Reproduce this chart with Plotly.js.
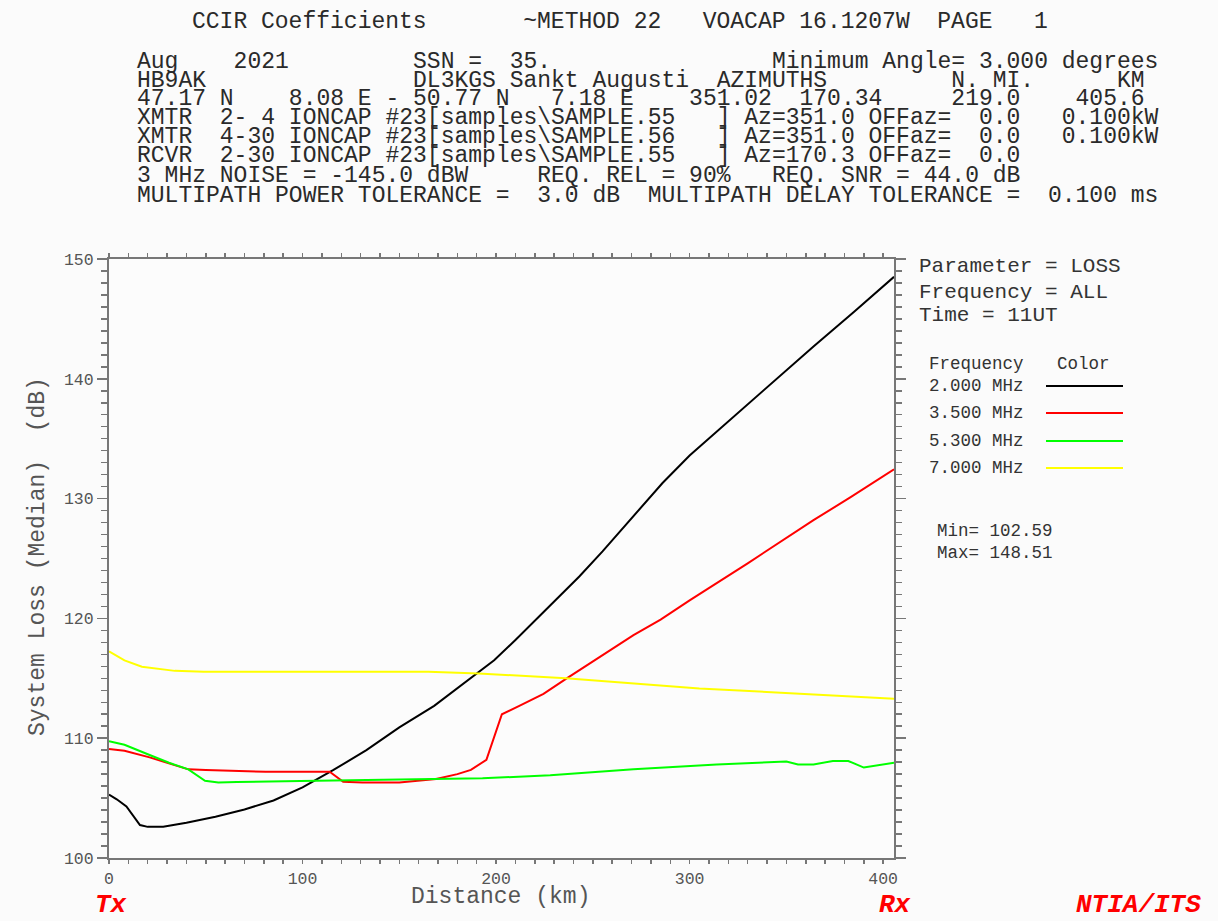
<!DOCTYPE html>
<html>
<head>
<meta charset="utf-8">
<script src="https://cdn.plot.ly/plotly-3.0.1.min.js"></script>
<style>
html,body{margin:0;padding:0;background:#fbfbfb;}
#chart{width:1218px;height:921px;}
</style>
</head>
<body>
<div id="chart"></div>
<script>
// ---- data ----
const freqLabels = ["2.000 MHz", "3.500 MHz", "5.300 MHz", "7.000 MHz"];
const seriesColors = ["#000000", "#ff0000", "#00ff00", "#ffff00"];

const dist2 = [0, 4, 9, 16, 20, 28, 40, 55, 70, 85, 100, 116, 133, 150, 168, 190, 199, 210, 225, 243, 255, 269, 286, 300, 330, 364, 385, 405.6];
const loss2 = [105.3, 104.9, 104.3, 102.75, 102.6, 102.6, 102.95, 103.45, 104.05, 104.8, 105.9, 107.35, 109.0, 110.9, 112.7, 115.4, 116.5, 118.2, 120.6, 123.5, 125.6, 128.2, 131.3, 133.6, 137.9, 142.7, 145.6, 148.51];

const dist35 = [0, 8, 21, 31, 41, 50, 66, 81, 100, 114, 121, 131, 150, 160, 169, 180, 187, 195, 203, 212, 224.5, 236.5, 254, 271, 285, 300, 330, 364, 383, 405.6];
const loss35 = [109.1, 108.95, 108.4, 107.9, 107.4, 107.35, 107.26, 107.2, 107.2, 107.2, 106.36, 106.3, 106.3, 106.45, 106.6, 107.0, 107.35, 108.2, 112.0, 112.7, 113.7, 115.0, 116.8, 118.6, 119.9, 121.5, 124.6, 128.2, 130.1, 132.45];

const dist53 = [0, 8, 21, 31, 41, 49.6, 56.5, 66, 99, 133, 150, 176, 193, 228, 271, 314, 340, 350, 356, 364, 374, 382, 390, 405.6];
const loss53 = [109.75, 109.45, 108.6, 107.95, 107.4, 106.45, 106.3, 106.35, 106.43, 106.5, 106.5, 106.6, 106.65, 106.9, 107.4, 107.8, 107.95, 108.05, 107.8, 107.8, 108.1, 108.1, 107.55, 107.95];

const dist7 = [0, 8, 17, 25, 34, 49, 125, 165, 191, 236, 305, 357, 405.6];
const loss7 = [117.25, 116.5, 115.96, 115.78, 115.62, 115.55, 115.55, 115.55, 115.4, 115.0, 114.15, 113.7, 113.3];

const seriesX = [dist2, dist35, dist53, dist7];
const seriesY = [loss2, loss35, loss53, loss7];

const xRange = [0, 405.6];
const yRange = [100, 150];
const xTitle = "Distance (km)";
const yTitle = "System Loss (Median)  (dB)";

// header lines: [column, text] pieces
const headerTitle = [[0, "CCIR Coefficients"], [24, "~METHOD 22"], [37, "VOACAP 16.1207W"], [54, "PAGE"], [61, "1"]];
const headerLines = [
  [[0, "Aug"], [7, "2021"], [20, "SSN =  35."], [46, "Minimum Angle= 3.000 degrees"]],
  [[0, "HB9AK"], [20, "DL3KGS Sankt Augusti"], [42, "AZIMUTHS"], [59, "N. MI."], [71, "KM"]],
  [[0, "47.17 N"], [11, "8.08 E - 50.77 N"], [30, "7.18 E"], [40, "351.02  170.34"], [59, "219.0"], [68, "405.6"]],
  [[0, "XMTR"], [6, "2- 4 IONCAP #23[samples\\SAMPLE.55"], [42, "] Az=351.0 OFFaz=  0.0"], [67, "0.100kW"]],
  [[0, "XMTR"], [6, "4-30 IONCAP #23[samples\\SAMPLE.56"], [42, "] Az=351.0 OFFaz=  0.0"], [67, "0.100kW"]],
  [[0, "RCVR"], [6, "2-30 IONCAP #23[samples\\SAMPLE.55"], [42, "] Az=170.3 OFFaz=  0.0"]],
  [[0, "3 MHz NOISE = -145.0 dBW"], [29, "REQ. REL = 90%"], [46, "REQ. SNR = 44.0 dB"]],
  [[0, "MULTIPATH POWER TOLERANCE =  3.0 dB  MULTIPATH DELAY TOLERANCE =  0.100 ms"]]
];
const infoLines = ["Parameter = LOSS", "Frequency = ALL", "Time = 11UT"];
const legendHeader = ["Frequency", "Color"];
const minMaxLines = ["Min= 102.59", "Max= 148.51"];
const footLabels = ["Tx", "Rx", "NTIA/ITS"];

// ---- layout helpers ----
const W = 1218, H = 921;
const L = 109, R = 894, T = 259, B = 858;
const px = p => (p - L) / (R - L);
const py = p => (B - p) / (B - T);
const nb = s => s.replace(/ /g, "\u00A0");
function buildLine(pieces) {
  let s = "";
  pieces.forEach(([c, t]) => { while (s.length < c) s += " "; s += t; });
  return nb(s);
}
const MONO = "Liberation Mono, Courier New, monospace";

const traces = seriesX.map((xs, i) => ({
  type: "scatter", mode: "lines", x: xs, y: seriesY[i],
  line: {color: seriesColors[i], width: 2}, name: freqLabels[i], hoverinfo: "skip"
}));

const ann = [];
function addText(text, x, y, size, color, extra) {
  ann.push(Object.assign({
    text: text, xref: "paper", yref: "paper", x: px(x), y: py(y),
    xanchor: "left", yanchor: "middle", showarrow: false, borderpad: 0,
    font: {family: MONO, size: size, color: color}
  }, extra || {}));
}
addText(buildLine(headerTitle), 191, 22, 23, "#2a2a2a");
const headerY = [62, 81, 99, 118, 137, 156, 176, 196];
headerLines.forEach((ln, i) => addText(buildLine(ln), 136, headerY[i], 23, "#2a2a2a"));

const infoY = [267, 292, 315];
infoLines.forEach((t, i) => addText(nb(t), 918, infoY[i], 21, "#333"));
addText(legendHeader[0], 928, 364, 17.5, "#333");
addText(legendHeader[1], 1056, 364, 17.5, "#333");
const legY = [386, 413, 441, 468];
const shapes = [];
freqLabels.forEach((t, i) => {
  addText(nb(t), 928, legY[i], 17.5, "#333");
  shapes.push({type: "line", xref: "paper", yref: "paper",
    x0: px(1046), x1: px(1123), y0: py(legY[i]), y1: py(legY[i]),
    line: {color: seriesColors[i], width: 2}});
});
addText(nb(minMaxLines[0]), 936, 531, 17.5, "#333");
addText(nb(minMaxLines[1]), 936, 553, 17.5, "#333");

const footFont = {family: MONO, size: 26, color: "#ff0000", weight: "bold", style: "italic"};
addText(footLabels[0], 94, 905, 26, "#ff0000", {font: footFont});
addText(footLabels[1], 878, 905, 26, "#ff0000", {font: footFont});
addText(footLabels[2], 1075, 905, 26, "#ff0000", {font: footFont});

// axis titles
ann.push({text: xTitle, xref: "paper", yref: "paper", x: px(500), y: py(897),
  xanchor: "center", yanchor: "middle", showarrow: false, borderpad: 0,
  font: {family: MONO, size: 23, color: "#555"}});
ann.push({text: nb(yTitle), xref: "paper", yref: "paper", x: px(38), y: py(557),
  xanchor: "center", yanchor: "middle", showarrow: false, textangle: -90, borderpad: 0,
  font: {family: MONO, size: 23, color: "#555"}});

const axisCommon = {
  showline: true, linecolor: "#777", linewidth: 2, mirror: "allticks",
  ticks: "outside", tickwidth: 1.5, tickcolor: "#777",
  showgrid: false, zeroline: false, fixedrange: true,
  tickfont: {family: MONO, size: 16.5, color: "#555"}
};
const layout = {
  width: W, height: H,
  margin: {l: L, r: W - R, t: T, b: H - B, pad: 0},
  paper_bgcolor: "#fbfbfb", plot_bgcolor: "#fcfcfc",
  showlegend: false,
  xaxis: Object.assign({}, axisCommon, {range: xRange, dtick: 100, tick0: 0, ticklen: 4,
    minor: {dtick: 10, ticks: "outside", ticklen: 4, tickwidth: 1.5, tickcolor: "#777"}}),
  yaxis: Object.assign({}, axisCommon, {range: yRange, dtick: 10, tick0: 100, ticklen: 10,
    minor: {dtick: 1, ticks: "outside", ticklen: 6, tickwidth: 1.5, tickcolor: "#777"}}),
  annotations: ann,
  shapes: shapes
};
Plotly.newPlot("chart", traces, layout, {displayModeBar: false, staticPlot: true});
</script>
</body>
</html>
